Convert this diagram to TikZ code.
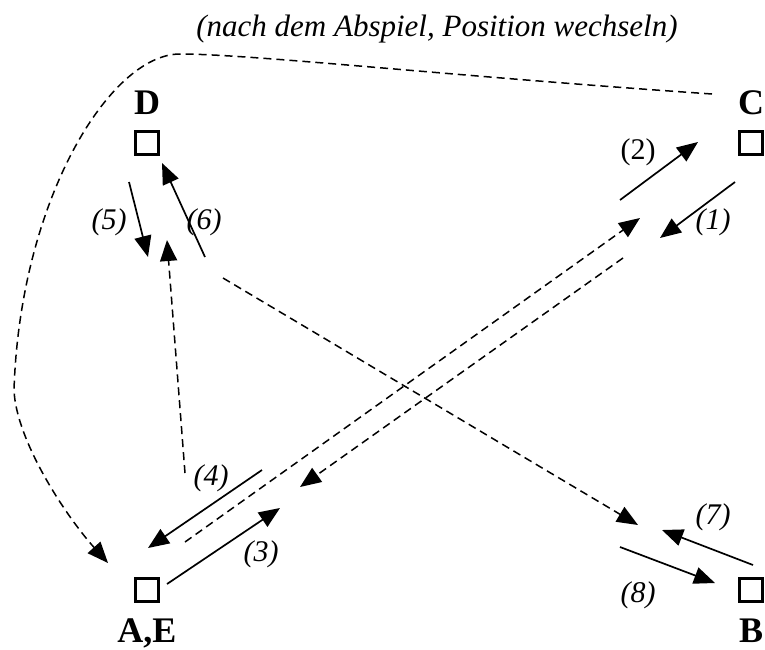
\documentclass[tikz,border=0pt]{standalone}
\usepackage{fontspec}
\setmainfont{Liberation Serif}
\usetikzlibrary{arrows.meta, positioning}
\tikzset{
    >={Triangle[length=21pt, width=17pt]},
    pos_square/.style={
        rectangle,
        draw=black,
        line width=3.2pt,
        minimum size=23.5pt,
        inner sep=0pt
    },
    pos_name/.style={
        font=\fontsize{36}{40}\selectfont\bfseries,
        inner sep=3pt
    },
    step_label/.style={
        font=\fontsize{30}{34}\selectfont\itshape,
        inner sep=0pt
    },
    title_text/.style={
        font=\fontsize{31}{36}\selectfont\itshape,
        inner sep=0pt
    },
    run_arrow/.style={
        ->,
        line width=1.7pt
    },
    pass_arrow/.style={
        ->,
        line width=1.5pt,
        dash pattern=on 8pt off 5pt
    }
}

\begin{document}
\begin{tikzpicture}[x=1pt, y=-1pt]
\useasboundingbox (0,0) rectangle (765,649);

% --- Title ---
\node[title_text, anchor=base] (title) at (437,36) {(nach dem Abspiel, Position wechseln)};

% --- Positions ---
\node[pos_square] (pD) at (147,143) {};
\node[pos_square] (pC) at (751,143) {};
\node[pos_square] (pAE) at (147,590) {};
\node[pos_square] (pB) at (751,590) {};
\node[pos_name, above=11.5pt of pD] (nD) {D};
\node[pos_name, above=11.5pt of pC] (nC) {C};
\node[pos_name, below=12pt of pAE] (nAE) {A,E};
\node[pos_name, below=12pt of pB] (nB) {B};

% --- Arrow ends ---
\coordinate (s1a) at (735,182);  \coordinate (s1b) at (660,238);
\coordinate (s2a) at (620,200);  \coordinate (s2b) at (698,142);
\coordinate (s3a) at (167,584);  \coordinate (s3b) at (280,508);
\coordinate (s4a) at (262,470);  \coordinate (s4b) at (148,548);
\coordinate (s5a) at (129,182);  \coordinate (s5b) at (148,257);
\coordinate (s6a) at (205,257);  \coordinate (s6b) at (162,163);
\coordinate (s7a) at (753,565);  \coordinate (s7b) at (662,530);
\coordinate (s8a) at (620,547);  \coordinate (s8b) at (715,583);
\coordinate (pAC) at (185,542);  \coordinate (pCA) at (640,218);
\coordinate (rCA) at (623,258);  \coordinate (rAC) at (300,487);
\coordinate (pUp) at (185,473);  \coordinate (pDn) at (167,240);
\coordinate (pDB) at (223,278);  \coordinate (pBD) at (638,525);
\coordinate (cTop) at (712,94);  \coordinate (cPeak) at (180,54);
\coordinate (cLeft) at (14,390); \coordinate (cEnd) at (108,563);

% --- Runs ---
\draw[run_arrow] (s1a) -- (s1b);
\draw[run_arrow] (s2a) -- (s2b);
\draw[run_arrow] (s3a) -- (s3b);
\draw[run_arrow] (s4a) -- (s4b);
\draw[run_arrow] (s5a) -- (s5b);
\draw[run_arrow] (s6a) -- (s6b);
\draw[run_arrow] (s7a) -- (s7b);
\draw[run_arrow] (s8a) -- (s8b);

% --- Passes ---
\draw[pass_arrow] (pAC) -- (pCA);
\draw[pass_arrow] (rCA) -- (rAC);
\draw[pass_arrow] (pUp) -- (pDn);
\draw[pass_arrow] (pDB) -- (pBD);
\draw[pass_arrow] (cTop) .. controls (450,76) and (250,54) .. (cPeak)
    .. controls (110,54) and (20,200) .. (cLeft)
    .. controls (16,440) and (65,515) .. (cEnd);

% --- Labels ---
\node[step_label] (l1) at (713,222) {(1)};
\node[step_label, font=\fontsize{30}{34}\selectfont\upshape] (l2) at (638,152) {(2)};
\node[step_label] (l3) at (261,554) {(3)};
\node[step_label] (l4) at (211,478) {(4)};
\node[step_label] (l5) at (109,222) {(5)};
\node[step_label] (l6) at (204,222) {(6)};
\node[step_label] (l7) at (713,517) {(7)};
\node[step_label] (l8) at (638,595) {(8)};

\end{tikzpicture}
\end{document}
